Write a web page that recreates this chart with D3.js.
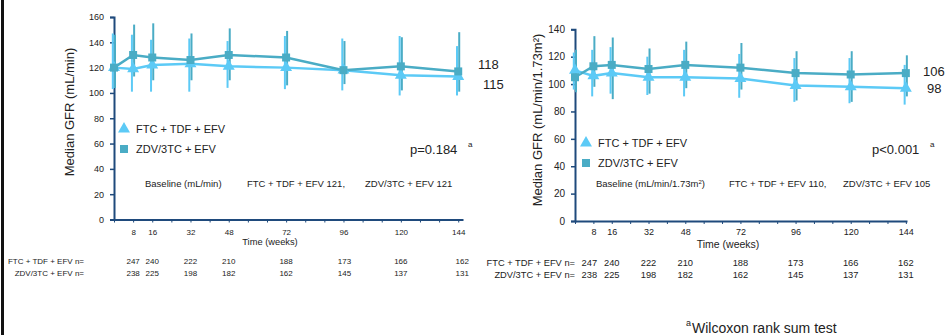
<!DOCTYPE html>
<html>
<head>
<meta charset="utf-8">
<script src="https://cdn.jsdelivr.net/npm/d3@7"></script>
<style>
  body { margin: 0; background: #fff; }
  text { font-family: "Liberation Sans", Arial, sans-serif; fill: #222; }
</style>
</head>
<body>
<div id="chart"></div>
<script>
// time points (weeks)
const weeks = [0, 8, 16, 32, 48, 72, 96, 120, 144];
const labelWeeks = [8, 16, 32, 48, 72, 96, 120, 144];

// left: median GFR (mL/min)
const gfrFtc = [120, 119, 122, 123, 121, 120, 118, 114, 113];
const gfrFtcLo = [103, 101, 101, 101, 104, 103, 102, 98, 98];
const gfrFtcHi = [147, 146, 142, 143, 141, 145, 143, 145, 137];
const gfrZdv = [120, 130, 128, 126, 130, 128, 118, 121, 117];
const gfrZdvLo = [104, 113, 110, 110, 110, 106, 107, 102, 101];
const gfrZdvHi = [146, 154, 155, 147, 151, 149, 141, 144, 148];

// right: median GFR (mL/min/1.73m2)
const egfrFtc = [110, 106, 108, 105, 105, 104, 99, 98, 97];
const egfrFtcLo = [96, 91, 93, 92, 91, 90, 87, 86, 85];
const egfrFtcHi = [123, 125, 127, 120, 125, 122, 119, 119, 114];
const egfrZdv = [105, 113, 114, 111, 114, 112, 108, 107, 108];
const egfrZdvLo = [94, 98, 89, 93, 97, 96, 88, 87, 91];
const egfrZdvHi = [125, 135, 134, 126, 131, 130, 124, 124, 121];

// patients at risk
const nFtc = [247, 240, 222, 210, 188, 173, 166, 162];
const nZdv = [238, 225, 198, 182, 162, 145, 137, 131];

const W = 948, H = 335;
const lightBlue = "#5ccaf6", teal = "#4aacc5", navy = "#1f4a7c";

const svg = d3.select("#chart").append("svg")
    .attr("width", W)
    .attr("height", H);

// black frame edge on the left
svg.append("rect").attr("x", 1).attr("y", 0).attr("width", 3).attr("height", H).attr("fill", "#111");

function drawPanel(p) {
    const x = d3.scaleLinear().domain(p.xDomain).range(p.xRange);
    const y = d3.scaleLinear().domain(p.yDomain).range(p.yRange);
    const g = svg.append("g");

    // y axis
    const ya = g.append("g")
        .attr("transform", `translate(${p.xRange[0]},0)`)
        .call(d3.axisLeft(y).tickValues(d3.range(0, p.yDomain[1] + 1, 20)).tickSize(4).tickPadding(6));
    ya.select(".domain").attr("stroke", navy).attr("stroke-width", 2);
    ya.selectAll(".tick line").attr("stroke", navy).attr("stroke-width", 1.5);
    ya.selectAll(".tick text").style("font-size", p.tickFont + "px").attr("fill", "#222");

    // x axis
    const xa = g.append("g")
        .attr("transform", `translate(0,${p.yRange[0]})`)
        .call(d3.axisBottom(x).tickValues(d3.range(0, 145, 8)).tickSizeInner(3).tickSizeOuter(0)
            .tickPadding(p.xPad)
            .tickFormat(d => labelWeeks.includes(d) ? d : ""));
    xa.select(".domain").attr("stroke", navy).attr("stroke-width", 2);
    xa.selectAll(".tick line").attr("stroke", navy).attr("stroke-width", 1);
    xa.selectAll(".tick text").style("font-size", p.xTickFont + "px").attr("fill", "#222");

    g.append("text")
        .attr("x", p.timeX).attr("y", p.timeY)
        .style("text-anchor", "middle")
        .style("font-size", p.timeFont + "px")
        .text("Time (weeks)");

    g.append("text")
        .attr("transform", `translate(${p.titleX},${p.titleY}) rotate(-90)`)
        .style("text-anchor", "middle")
        .style("font-size", "13px")
        .text(p.title);

    // error bars
    const series = [
        { v: p.ftc, lo: p.ftcLo, hi: p.ftcHi, color: lightBlue, dx: -1.2, sym: d3.symbolTriangle, size: 62 },
        { v: p.zdv, lo: p.zdvLo, hi: p.zdvHi, color: teal, dx: 1, sym: d3.symbolSquare, size: 64 }
    ];
    series.forEach(s => {
        g.selectAll(null)
            .data(weeks)
            .enter()
            .append("line")
            .attr("x1", (d, i) => x(d) + s.dx)
            .attr("x2", (d, i) => x(d) + s.dx)
            .attr("y1", (d, i) => y(s.lo[i]))
            .attr("y2", (d, i) => y(s.hi[i]))
            .attr("stroke", s.color)
            .attr("stroke-width", 2);
    });
    series.forEach(s => {
        g.append("path")
            .datum(weeks)
            .attr("fill", "none")
            .attr("stroke", s.color)
            .attr("stroke-width", 2.5)
            .attr("d", d3.line().x(d => x(d)).y((d, i) => y(s.v[i])));
    });
    series.forEach(s => {
        g.selectAll(null)
            .data(weeks)
            .enter()
            .append("path")
            .attr("transform", (d, i) => `translate(${x(d)},${y(s.v[i])})`)
            .attr("d", d3.symbol().type(s.sym).size(s.size))
            .attr("fill", s.color);
    });

    // legend
    [["FTC + TDF + EFV", d3.symbolTriangle, lightBlue, 62], ["ZDV/3TC + EFV", d3.symbolSquare, teal, 64]].forEach((l, i) => {
        g.append("path")
            .attr("transform", `translate(${p.legX},${p.legY + i * p.legDy})`)
            .attr("d", d3.symbol().type(l[1]).size(l[3]))
            .attr("fill", l[2]);
        g.append("text")
            .attr("x", p.legX + 12).attr("y", p.legY + i * p.legDy + 4)
            .style("font-size", "11px")
            .text(l[0]);
    });

    // p value
    g.append("text").attr("x", p.pX).attr("y", 154).style("font-size", "13px").text(p.pText);
    g.append("text").attr("x", p.pX + p.pW + 8).attr("y", 147).style("font-size", "8px").text("a");

    // end labels
    p.endLabels.forEach(e => {
        g.append("text").attr("x", e[0]).attr("y", e[1]).style("font-size", "13px").text(e[2]);
    });

    // baseline notes
    p.notes.forEach(n => {
        const t = g.append("text").attr("x", n[0]).attr("y", 187).style("font-size", p.noteFont + "px");
        t.append("tspan").text(n[1]);
        if (n[2]) {
            t.append("tspan").attr("dy", -3).style("font-size", "6px").text(n[2]);
            t.append("tspan").attr("dy", 3).text(n[3]);
        }
    });

    // n at risk
    [["FTC + TDF + EFV n=", nFtc, p.nY1], ["ZDV/3TC + EFV n=", nZdv, p.nY2]].forEach(r => {
        g.append("text")
            .attr("x", p.nLabelX).attr("y", r[2])
            .style("text-anchor", "end")
            .style("font-size", p.nFont + "px")
            .text(r[0]);
        g.selectAll(null)
            .data(labelWeeks)
            .enter()
            .append("text")
            .attr("x", (d, i) => x(d) + p.nShift[i])
            .attr("y", r[2])
            .style("text-anchor", "middle")
            .style("font-size", p.nFont + "px")
            .text((d, i) => r[1][i]);
    });
}

drawPanel({
    xDomain: [0, 146], xRange: [114, 463],
    yDomain: [0, 160], yRange: [219.5, 17],
    tickFont: 9, xTickFont: 8, xPad: 7, timeFont: 9.3, timeX: 270, timeY: 245,
    title: "Median GFR (mL/min)", titleX: 74, titleY: 112,
    ftc: gfrFtc, ftcLo: gfrFtcLo, ftcHi: gfrFtcHi,
    zdv: gfrZdv, zdvLo: gfrZdvLo, zdvHi: gfrZdvHi,
    legX: 124, legY: 129, legDy: 20,
    pX: 410, pW: 50, pText: "p=0.184",
    endLabels: [[478, 69, "118"], [483, 89, "115"]],
    noteFont: 9.5,
    notes: [[145, "Baseline (mL/min)"], [247, "FTC + TDF + EFV 121,"], [365, "ZDV/3TC + EFV 121"]],
    nFont: 8, nLabelX: 84, nY1: 264, nY2: 276,
    nShift: [0, 0, 0, 0, 0, 1, 0, 4]
});

drawPanel({
    xDomain: [0, 144.5], xRange: [575, 907],
    yDomain: [0, 140], yRange: [221, 29.3],
    tickFont: 10, xTickFont: 9, xPad: 5, timeFont: 10.5, timeX: 728, timeY: 248,
    title: "Median GFR (mL/min/1.73m\u00b2)", titleX: 542, titleY: 120,
    ftc: egfrFtc, ftcLo: egfrFtcLo, ftcHi: egfrFtcHi,
    zdv: egfrZdv, zdvLo: egfrZdvLo, zdvHi: egfrZdvHi,
    legX: 586, legY: 143, legDy: 20,
    pX: 872, pW: 50, pText: "p<0.001",
    endLabels: [[923, 76, "106"], [927, 93, "98"]],
    noteFont: 9.5,
    notes: [[596, "Baseline (mL/min/1.73m", "2", ")"], [729, "FTC + TDF + EFV 110,"], [843, "ZDV/3TC + EFV 105"]],
    nFont: 9.3, nLabelX: 575, nY1: 266, nY2: 278,
    nShift: [-4, 0, 0, 0, 0, 0, 0, 0]
});

// footnote
svg.append("text").attr("x", 686).attr("y", 326).style("font-size", "9px").text("a");
svg.append("text").attr("x", 692).attr("y", 333).style("font-size", "14px").text("Wilcoxon rank sum test");
</script>
</body>
</html>
